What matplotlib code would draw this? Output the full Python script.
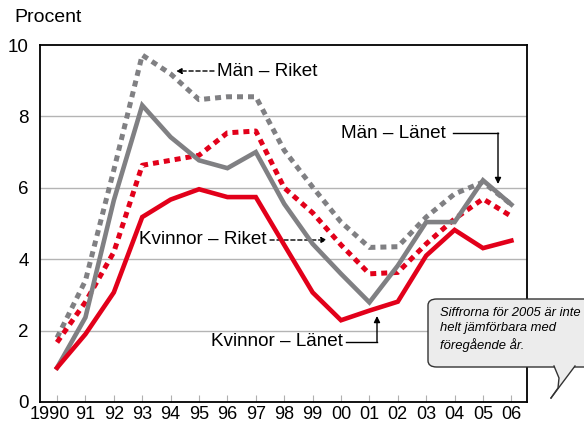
import matplotlib
matplotlib.use("Agg")
import matplotlib.pyplot as plt
from matplotlib.patches import FancyBboxPatch, Polygon
from matplotlib.lines import Line2D

years = list(range(1990, 2007))
year_labels = ["1990", "91", "92", "93", "94", "95", "96", "97", "98", "99",
               "00", "01", "02", "03", "04", "05", "06"]

man_riket = [1.8, 3.4, 6.5, 9.72, 9.19, 8.47, 8.55, 8.55, 7.05, 6.02,
             5.04, 4.33, 4.35, 5.18, 5.83, 6.16, 5.53]
man_lanet = [0.96, 2.37, 5.65, 8.31, 7.42, 6.77, 6.55, 7.0, 5.55, 4.43,
             3.59, 2.79, 3.82, 5.04, 5.04, 6.21, 5.53]
kv_riket = [1.67, 2.8, 4.2, 6.63, 6.77, 6.91, 7.54, 7.59, 6.0, 5.3,
            4.4, 3.59, 3.63, 4.43, 5.13, 5.69, 5.2]
kv_lanet = [0.96, 1.9, 3.07, 5.18, 5.67, 5.96, 5.74, 5.74, 4.4, 3.07,
            2.29, 2.56, 2.81, 4.1, 4.82, 4.31, 4.52]

RED = "#e2001a"
GREY = "#808083"
W, H = 584, 425

plt.rcParams['font.family'] = ['Liberation Sans', 'DejaVu Sans']

fig = plt.figure(figsize=(W / 100, H / 100), dpi=100)
ax = fig.add_axes([40 / W, 1 - 402 / H, 487 / W, 357 / H])


def px(x, y):
    return (x / W, 1 - y / H)


dot = (0, (1.2, 1.0))
ax.plot(years, man_riket, color=GREY, lw=3.6, linestyle=dot, dash_capstyle='butt', zorder=3)
ax.plot(years, kv_riket, color=RED, lw=3.6, linestyle=dot, dash_capstyle='butt', zorder=3)
ax.plot(years, man_lanet, color=GREY, lw=3.3, solid_joinstyle='miter', zorder=4)
ax.plot(years, kv_lanet, color=RED, lw=3.3, solid_joinstyle='miter', zorder=4)

ax.set_xlim(1989.4, 2006.55)
ax.set_ylim(0, 10)
ax.set_yticks([0, 2, 4, 6, 8, 10])
ax.set_yticklabels(["0", "2", "4", "6", "8", "10"], fontsize=13.5)
ax.set_xticks(years)
ax.set_xticklabels([""] + year_labels[1:], fontsize=13)
ax.annotate(year_labels[0], xy=(years[0], 0), xycoords=('data', 'axes fraction'),
            xytext=(9, -3), textcoords='offset points', ha='right', va='top',
            fontsize=13)
ax.tick_params(axis='y', length=0, pad=8)
ax.tick_params(axis='x', direction='in', length=5, color='#b0b0b0', pad=3)
for y in [2, 4, 6, 8]:
    ax.axhline(y, color='#b4b4b4', lw=1.0, zorder=1)
for s in ax.spines.values():
    s.set_color('black')
    s.set_linewidth(1.3)

fig.text(*px(14, 18), "Procent", fontsize=14, va='center', ha='left')

lab = dict(fontsize=13.6, va='center')
# Män – Riket
fig.text(*px(217, 71), "Män – Riket", ha='left', **lab)
ax.annotate("", xy=px(176, 71), xytext=px(214, 71), xycoords='figure fraction',
            textcoords='figure fraction',
            arrowprops=dict(arrowstyle='-|>', ls=(0, (3, 2)), lw=1, color='black',
                            mutation_scale=8, shrinkA=0, shrinkB=0))
# Kvinnor – Riket
fig.text(*px(139, 240), "Kvinnor – Riket", ha='left', **lab)
ax.annotate("", xy=px(327, 240), xytext=px(270, 240), xycoords='figure fraction',
            textcoords='figure fraction',
            arrowprops=dict(arrowstyle='-|>', ls=(0, (3, 2)), lw=1, color='black',
                            mutation_scale=8, shrinkA=0, shrinkB=0))
# Män – Länet
fig.text(*px(341, 133), "Män – Länet", ha='left', **lab)
fig.add_artist(Line2D([453 / W, 498 / W], [1 - 133 / H, 1 - 133 / H], color='black', lw=1))
ax.annotate("", xy=px(498, 184), xytext=px(498, 133), xycoords='figure fraction',
            textcoords='figure fraction',
            arrowprops=dict(arrowstyle='-|>', lw=1, color='black',
                            mutation_scale=9, shrinkA=0, shrinkB=0))
# Kvinnor – Länet
fig.text(*px(211, 342), "Kvinnor – Länet", ha='left', **lab)
fig.add_artist(Line2D([346 / W, 377 / W], [1 - 342 / H, 1 - 342 / H], color='black', lw=1))
ax.annotate("", xy=px(377, 316), xytext=px(377, 342), xycoords='figure fraction',
            textcoords='figure fraction',
            arrowprops=dict(arrowstyle='-|>', lw=1, color='black',
                            mutation_scale=9, shrinkA=0, shrinkB=0))

# callout box
box_fc = '#ececec'
x0, y0 = px(428, 367)
x1, y1 = px(600, 299)
box = FancyBboxPatch((x0, y0), x1 - x0, y1 - y0,
                     boxstyle="round,pad=0,rounding_size=0.015",
                     transform=fig.transFigure, fc=box_fc, ec='#333333', lw=1,
                     clip_on=False, zorder=10)
fig.add_artist(box)
tail = [px(554, 366), px(559, 378), px(558, 388), px(551, 398), px(575, 366)]
fig.add_artist(Polygon(tail, closed=True, transform=fig.transFigure, fc=box_fc,
                       ec='none', zorder=11))
fig.add_artist(Line2D([p[0] for p in tail[:4]], [p[1] for p in tail[:4]],
                      color='#333333', lw=1, zorder=12))
fig.add_artist(Line2D([tail[3][0], tail[4][0]], [tail[3][1], tail[4][1]],
                      color='#333333', lw=1, zorder=12))
fig.text(*px(440, 307), "Siffrorna för 2005 är inte\nhelt jämförbara med\nföregående år.",
         fontsize=9.4, style='italic', ha='left', va='top', linespacing=1.35, zorder=13)

fig.savefig("out.png", dpi=100)
